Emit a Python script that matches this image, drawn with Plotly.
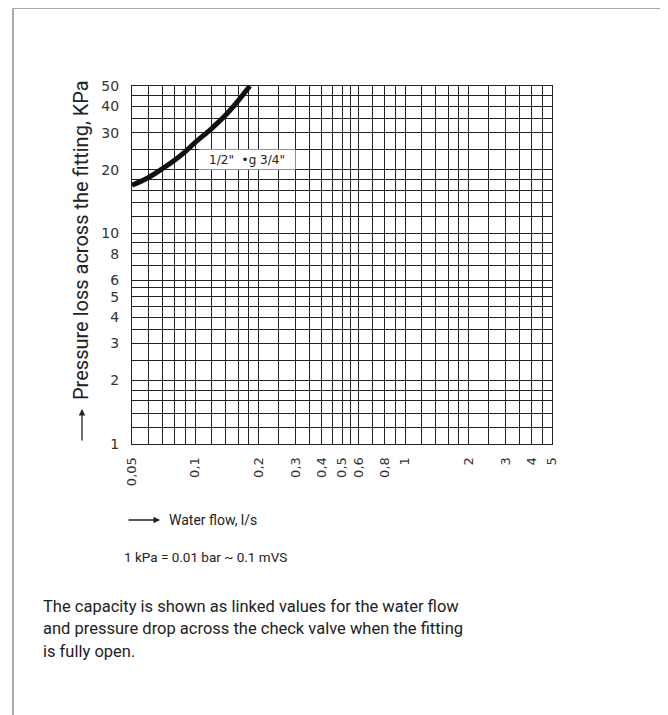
import math
import plotly.graph_objects as go

# ---- data ----
flow = [0.05, 0.06, 0.07, 0.08, 0.09, 0.1, 0.12, 0.14, 0.16, 0.182]
loss = [16.9, 18.4, 20.3, 22.3, 24.5, 27.0, 31.5, 36.5, 42.5, 50.0]

x_grid = [0.05, 0.06, 0.07, 0.08, 0.09, 0.1, 0.12, 0.14, 0.16, 0.18, 0.2, 0.25,
          0.3, 0.35, 0.4, 0.45, 0.5, 0.55, 0.6, 0.7, 0.8, 0.9, 1, 1.2, 1.4,
          1.6, 1.8, 2, 2.5, 3, 3.5, 4, 4.5, 5]
x_labels = {0.05: "0,05", 0.1: "0,1", 0.2: "0,2", 0.3: "0,3", 0.4: "0,4",
            0.5: "0,5", 0.6: "0,6", 0.8: "0,8", 1: "1", 2: "2", 3: "3",
            4: "4", 5: "5"}
y_grid = [1, 1.2, 1.4, 1.6, 1.8, 2, 2.5, 3, 3.5, 4, 4.5, 5, 5.5, 6, 7, 8, 9,
          10, 12, 14, 16, 18, 20, 25, 30, 35, 40, 45, 50]
y_labels = {1: "1", 2: "2", 3: "3", 4: "4", 5: "5", 6: "6", 8: "8", 10: "10",
            20: "20", 30: "30", 40: "40", 50: "50"}

curve_label = '1/2"  \u2022g 3/4"'
y_title = "Pressure loss across the fitting, KPa"
x_title = "Water flow, l/s"
unit_note = "1 kPa = 0.01 bar ~ 0.1 mVS"
paragraph = ["The capacity is shown as linked values for the water flow",
             "and pressure drop across the check valve when the fitting",
             "is fully open."]

# ---- layout geometry (page has an 8px body margin) ----
OFF = 8
W, H = 668 - OFF, 715 - OFF
L, R, T, B = 132 - OFF, 552 - OFF, 86 - OFF, 444 - OFF


def xp(px):
    return (px - OFF - L) / (R - L)


def yp(py):
    return (B - (py - OFF)) / (B - T)


fig = go.Figure()
fig.add_trace(go.Scatter(x=flow, y=loss, mode="lines",
                         line=dict(color="#111111", width=5, shape="spline"),
                         hoverinfo="skip", showlegend=False))

clear = "rgba(0,0,0,0)"
fig.update_layout(
    xaxis=dict(type="log", range=[math.log10(0.05), math.log10(5)],
               tickmode="array", tickvals=x_grid,
               ticktext=[x_labels.get(v, "") for v in x_grid],
               tickangle=-90,
               tickfont=dict(family="DejaVu Sans", size=13, color="#333333"),
               ticks="outside", ticklen=7, tickcolor=clear,
               showgrid=True, gridcolor="#222222", gridwidth=1,
               showline=True, linecolor="#222222", linewidth=1, mirror=True,
               zeroline=False),
    yaxis=dict(type="log", range=[0, math.log10(50)], tickmode="array",
               tickvals=y_grid, ticktext=[y_labels.get(v, "") for v in y_grid],
               tickangle=0,
               tickfont=dict(family="DejaVu Sans", size=14, color="#333333"),
               ticks="outside", ticklen=9, tickcolor=clear,
               showgrid=True, gridcolor="#222222", gridwidth=1,
               showline=True, linecolor="#222222", linewidth=1, mirror=True,
               zeroline=False),
)

anns = []
# curve label box (covers grid between 0.1..0.3 and 20..25)
anns.append(dict(x=math.log10(0.176), y=math.log10(22.3), xref="x", yref="y",
                 text=curve_label, showarrow=False, bgcolor="white",
                 width=96, height=19, borderpad=0,
                 font=dict(family="DejaVu Sans", size=12, color="#222222")))
# y title
anns.append(dict(x=xp(81), y=yp(240), xref="paper", yref="paper",
                 text=y_title, textangle=-90, showarrow=False,
                 xanchor="center", yanchor="middle",
                 font=dict(family="Roboto", size=20, color="#222222")))
# y arrow
anns.append(dict(x=xp(82), y=yp(409), xref="paper", yref="paper", text="",
                 showarrow=True, ax=0, ay=33, arrowhead=2, arrowsize=1,
                 arrowwidth=1.3, arrowcolor="#222222"))
# x arrow
anns.append(dict(x=xp(160), y=yp(520), xref="paper", yref="paper", text="",
                 showarrow=True, ax=-33, ay=0, arrowhead=2, arrowsize=1,
                 arrowwidth=1.3, arrowcolor="#222222"))
# x title
anns.append(dict(x=xp(167), y=yp(520), xref="paper", yref="paper",
                 text=x_title, showarrow=False, xanchor="left", yanchor="middle",
                 font=dict(family="Roboto", size=14, color="#222222")))
# unit note
anns.append(dict(x=xp(122), y=yp(557), xref="paper", yref="paper",
                 text=unit_note, showarrow=False, xanchor="left", yanchor="middle",
                 font=dict(family="Roboto", size=13.5, color="#222222")))
# paragraph lines
for i, line in enumerate(paragraph):
    anns.append(dict(x=xp(41), y=yp(606 + 22.5 * i), xref="paper", yref="paper",
                     text=line, showarrow=False, xanchor="left", yanchor="middle",
                     font=dict(family="Roboto", size=16.5, color="#222222")))

shapes = [
    dict(type="line", xref="paper", yref="paper", x0=xp(12), x1=xp(670),
         y0=yp(8), y1=yp(8), line=dict(color="#aaaaaa", width=2)),
    dict(type="line", xref="paper", yref="paper", x0=xp(13), x1=xp(13),
         y0=yp(7), y1=yp(720), line=dict(color="#aaaaaa", width=2)),
]

fig.update_layout(width=W, height=H, margin=dict(l=L, r=W - R, t=T, b=H - B),
                  paper_bgcolor="white", plot_bgcolor="white",
                  annotations=anns, shapes=shapes, showlegend=False)

fig.write_html("out.html")
